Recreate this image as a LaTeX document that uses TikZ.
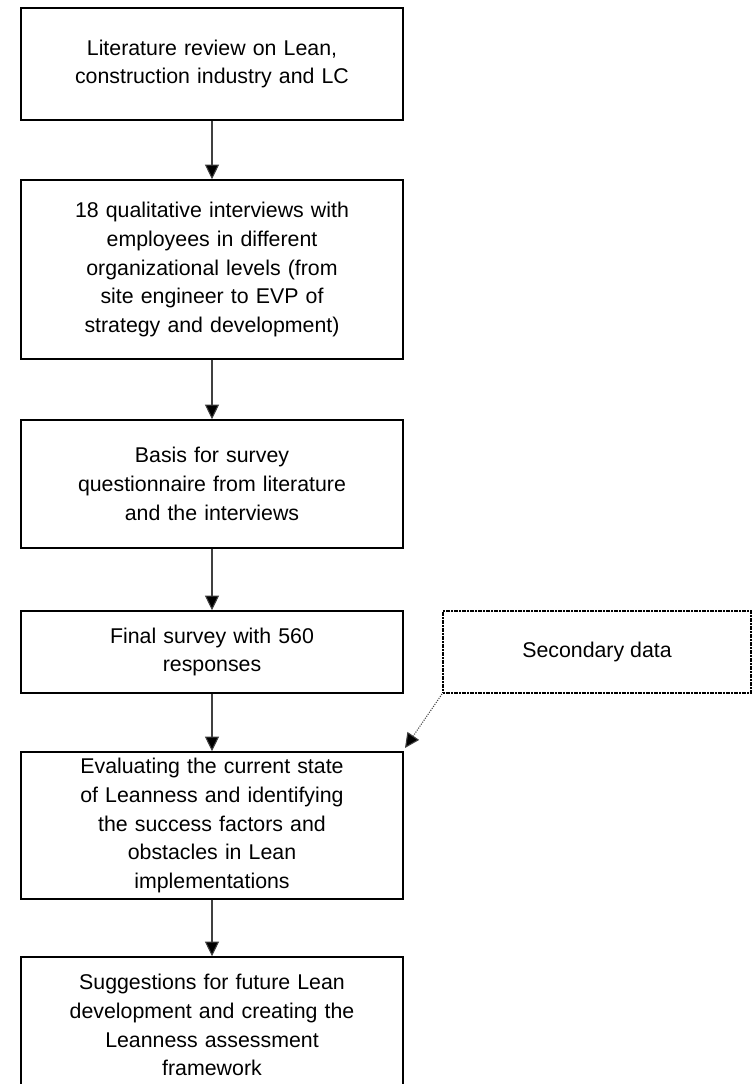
\documentclass[tikz,border=0pt]{standalone}
\usepackage{fontspec}
\setmainfont{Liberation Sans}
\usetikzlibrary{arrows.meta}
\begin{document}
\begin{tikzpicture}[x=0.75pt,y=-0.75pt,
  stagebox/.style={draw=black,line width=1.1pt,minimum width=382*0.75pt,
    text width=370*0.75pt,align=center,inner sep=0pt,
    font=\fontsize{16}{21.6}\selectfont},
  sidebox/.style={draw=black,line width=1.5pt,dash pattern=on 1.4pt off 0.6pt,
    minimum width=308*0.75pt,minimum height=82*0.75pt,align=center,
    inner sep=0pt,font=\fontsize{16}{21.6}\selectfont},
  flow/.style={draw=black!75,line width=0.8pt,
    -{Triangle[length=11pt,width=10.5pt,fill=black]}},
  sideflow/.style={draw=black!75,line width=0.8pt,densely dotted,
    -{Triangle[length=11pt,width=10.5pt,fill=black]}}]
  \useasboundingbox (0,0) rectangle (752,1084);

  % main chain of stages
  \node[stagebox,minimum height=112*0.75pt] (b1) at (212,64)
    {Literature review on Lean,\\construction industry and LC};
  \node[stagebox,minimum height=179*0.75pt] (b2) at (212,269.5)
    {18 qualitative interviews with\\employees in different\\organizational levels (from\\site engineer to EVP of\\strategy and development)};
  \node[stagebox,minimum height=128*0.75pt] (b3) at (212,484)
    {Basis for survey\\questionnaire from literature\\and the interviews};
  \node[stagebox,minimum height=82*0.75pt] (b4) at (212,652)
    {Final survey with 560\\responses};
  \node[stagebox,minimum height=147*0.75pt] (b5) at (212,825.5)
    {Evaluating the current state\\of Leanness and identifying\\the success factors and\\obstacles in Lean\\implementations};
  \node[stagebox,minimum height=136*0.75pt] (b6) at (212,1025)
    {Suggestions for future Lean\\development and creating the\\Leanness assessment\\framework};

  % side input
  \node[sidebox] (sd) at (597,652) {Secondary data};
  \coordinate (sdtip) at (405,748);

  \draw[flow] (b1.south) -- (b2.north);
  \draw[flow] (b2.south) -- (b3.north);
  \draw[flow] (b3.south) -- (b4.north);
  \draw[flow] (b4.south) -- (b5.north);
  \draw[flow] (b5.south) -- (b6.north);
  \draw[sideflow] (sd.south west) -- (sdtip);
\end{tikzpicture}
\end{document}
